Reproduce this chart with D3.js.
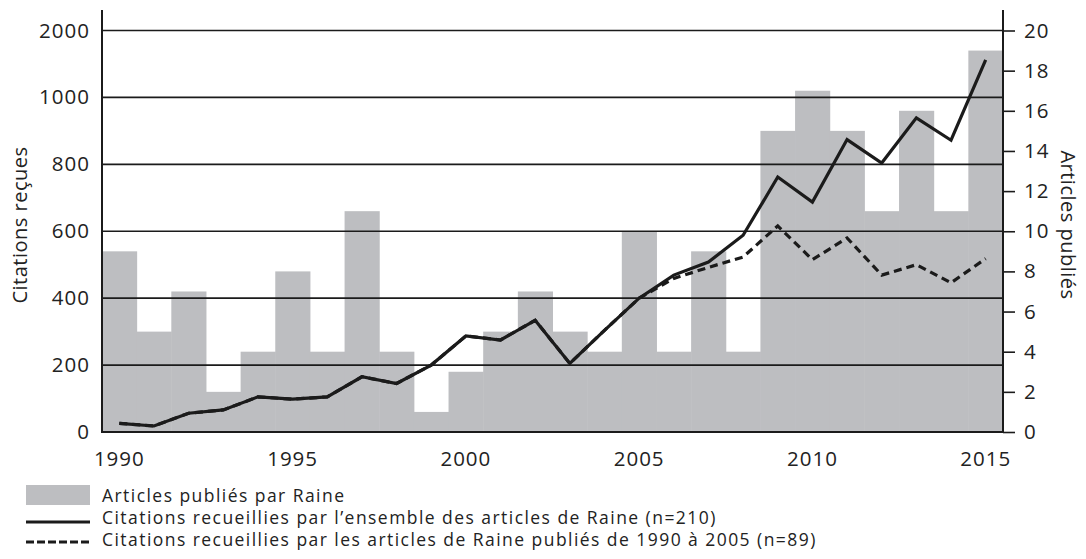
<!DOCTYPE html>
<html>
<head>
<meta charset="utf-8">
<script src="https://cdn.jsdelivr.net/npm/d3@7"></script>
<style>
  html, body { margin: 0; padding: 0; background: #fff; }
  svg { display: block; }
  text { font-family: "Open Sans", sans-serif; fill: #222; }
</style>
</head>
<body>
<svg id="chart" width="1086" height="559"></svg>
<script>
// ---- data ----
const years = [1990,1991,1992,1993,1994,1995,1996,1997,1998,1999,2000,2001,2002,2003,2004,2005,2006,2007,2008,2009,2010,2011,2012,2013,2014,2015];
const articles = [9,5,7,2,4,8,4,11,4,1,3,5,7,5,4,10,4,9,4,15,17,15,11,16,11,19];
const citationsAll = [26,18,56,66,105,98,105,165,145,200,287,275,334,205,304,400,469,508,588,762,687,874,804,939,872,1112];
const citations1990to2005 = [26,18,56,66,105,98,105,165,145,200,287,275,334,205,304,400,459,492,523,616,515,580,469,500,446,518];
const leftTickValues = [0,200,400,600,800,1000,1200];
const leftTickLabels = ["0","200","400","600","800","1000","2000"];
const rightTickValues = [0,2,4,6,8,10,12,14,16,18,20];
const xTickYears = [1990,1995,2000,2005,2010,2015];
const legendLabels = [
  "Articles publiés par Raine",
  "Citations recueillies par l’ensemble des articles de Raine (n=210)",
  "Citations recueillies par les articles de Raine publiés de 1990 à 2005 (n=89)"
];
const leftTitle = "Citations reçues";
const rightTitle = "Articles publiés";

// ---- layout ----
const L = 102, R = 1003, T = 30.5, B = 432;
const svg = d3.select("#chart");

const x = d3.scaleBand().domain(years).range([L, R]).padding(0);
const yL = d3.scaleLinear().domain([0, 1200]).range([B, T]);
const yR = d3.scaleLinear().domain([0, 20]).range([B, T]);

const barColor = "#bdbec1";
const ink = "#1b1b1b";

// bars
svg.append("g").selectAll("rect").data(years).join("rect")
  .attr("x", d => x(d))
  .attr("y", (d, i) => yR(articles[i]))
  .attr("width", x.bandwidth() + 0.5)
  .attr("height", (d, i) => B - yR(articles[i]))
  .attr("fill", barColor);

// gridlines (left axis)
svg.append("g").selectAll("line").data(leftTickValues.slice(1)).join("line")
  .attr("x1", L).attr("x2", R)
  .attr("y1", d => yL(d)).attr("y2", d => yL(d))
  .attr("stroke", ink).attr("stroke-width", 1.6);

function styleTicks(g) {
  g.selectAll("text").attr("font-size", 20.5).attr("font-family", "Open Sans")
    .attr("letter-spacing", 1).attr("fill", "#222");
}

// left axis labels
const leftAxis = d3.axisLeft(yL).tickValues(leftTickValues)
  .tickFormat((d, i) => leftTickLabels[i]).tickSize(0).tickPadding(12);
const gL = svg.append("g").attr("transform", `translate(${L},0)`).call(leftAxis);
gL.select(".domain").remove();
styleTicks(gL);

// right axis
const rightAxis = d3.axisRight(yR).tickValues(rightTickValues).tickSize(12).tickPadding(9);
const gR = svg.append("g").attr("transform", `translate(${R},0)`).call(rightAxis);
gR.select(".domain").remove();
gR.selectAll("line").attr("stroke", ink).attr("stroke-width", 1.6);
styleTicks(gR);

// bottom axis labels
const bottomAxis = d3.axisBottom(x).tickValues(xTickYears).tickSize(0).tickPadding(19);
const gB = svg.append("g").attr("transform", `translate(0,${B})`).call(bottomAxis);
gB.select(".domain").remove();
styleTicks(gB);

// axis frame lines
svg.append("line").attr("x1", L).attr("x2", L).attr("y1", 10).attr("y2", B + 1)
  .attr("stroke", ink).attr("stroke-width", 2);
svg.append("line").attr("x1", R).attr("x2", R).attr("y1", 10).attr("y2", B + 1)
  .attr("stroke", ink).attr("stroke-width", 2);
svg.append("line").attr("x1", L).attr("x2", R).attr("y1", B).attr("y2", B)
  .attr("stroke", ink).attr("stroke-width", 2);

// lines
const cx = d => x(d) + x.bandwidth() / 2;
const lineGen = vals => d3.line().x((d, i) => cx(years[i])).y((d, i) => yL(vals[i]))(vals);
svg.append("path").attr("d", lineGen(citations1990to2005))
  .attr("fill", "none").attr("stroke", ink).attr("stroke-width", 3.2)
  .attr("stroke-dasharray", "8,5");
svg.append("path").attr("d", lineGen(citationsAll))
  .attr("fill", "none").attr("stroke", ink).attr("stroke-width", 3.2)
  .attr("stroke-linejoin", "miter");

// axis titles
svg.append("text").attr("transform", "translate(27,225) rotate(-90)")
  .attr("text-anchor", "middle").attr("font-size", 20).attr("letter-spacing", 0.5).text(leftTitle);
svg.append("text").attr("transform", "translate(1061,225) rotate(90)")
  .attr("text-anchor", "middle").attr("font-size", 20).attr("letter-spacing", 0.5).text(rightTitle);

// legend
const lg = svg.append("g");
lg.append("rect").attr("x", 26).attr("y", 485).attr("width", 64).attr("height", 20).attr("fill", barColor);
lg.append("line").attr("x1", 26).attr("x2", 90).attr("y1", 522).attr("y2", 522)
  .attr("stroke", ink).attr("stroke-width", 3.2);
lg.append("line").attr("x1", 26).attr("x2", 90).attr("y1", 542).attr("y2", 542)
  .attr("stroke", ink).attr("stroke-width", 3.2).attr("stroke-dasharray", "8,3");
const baselines = [502, 524, 546];
lg.selectAll("text.leg").data(legendLabels).join("text").attr("class", "leg")
  .attr("x", 102).attr("y", (d, i) => baselines[i])
  .attr("font-size", 17.5).attr("letter-spacing", 1.45).text(d => d);
</script>
</body>
</html>
